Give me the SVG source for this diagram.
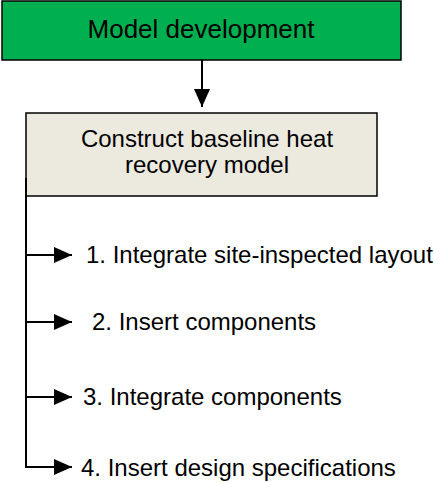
<svg xmlns="http://www.w3.org/2000/svg" width="434" height="483" viewBox="0 0 434 483">
<style>
.t{font-family:"Liberation Sans",Arial,sans-serif;fill:#000}
.ln{stroke:#000;stroke-width:2;fill:none}
</style>
<defs>
<marker id="ah" markerWidth="18" markerHeight="16" refX="18" refY="8" orient="auto" markerUnits="userSpaceOnUse" overflow="visible">
<path d="M0,0 L18,8 L0,16 Z" fill="#000"/>
</marker>
</defs>
<rect width="434" height="483" fill="#fff"/>
<g id="model-development">
<rect x="2" y="1" width="399" height="59" fill="#00B050" stroke="#000" stroke-width="1.5"/>
<text class="t" x="201" y="38" font-size="26" text-anchor="middle">Model development</text>
</g>
<g id="baseline">
<rect x="26" y="113" width="351" height="83" fill="#ECE9DF" stroke="#000" stroke-width="1.5"/>
<text class="t" x="207" y="147" font-size="24" text-anchor="middle">Construct baseline heat</text>
<text class="t" x="207" y="173" font-size="24" text-anchor="middle">recovery model</text>
</g>
<g id="step1"><text class="t" x="86" y="263" font-size="24">1. Integrate site-inspected layout</text></g>
<g id="step2"><text class="t" x="92" y="330" font-size="24">2. Insert components</text></g>
<g id="step3"><text class="t" x="83" y="405" font-size="24">3. Integrate components</text></g>
<g id="step4"><text class="t" x="81" y="476" font-size="24">4. Insert design specifications</text></g>
<g id="connectors">
<line class="ln" x1="202" y1="60" x2="202" y2="107" marker-end="url(#ah)"/>
<path class="ln" d="M26,178 V468"/>
<line class="ln" x1="25" y1="255" x2="72" y2="255" marker-end="url(#ah)"/>
<line class="ln" x1="25" y1="322" x2="72" y2="322" marker-end="url(#ah)"/>
<line class="ln" x1="25" y1="397" x2="72" y2="397" marker-end="url(#ah)"/>
<line class="ln" x1="25" y1="467" x2="72" y2="467" marker-end="url(#ah)"/>
</g>
</svg>
